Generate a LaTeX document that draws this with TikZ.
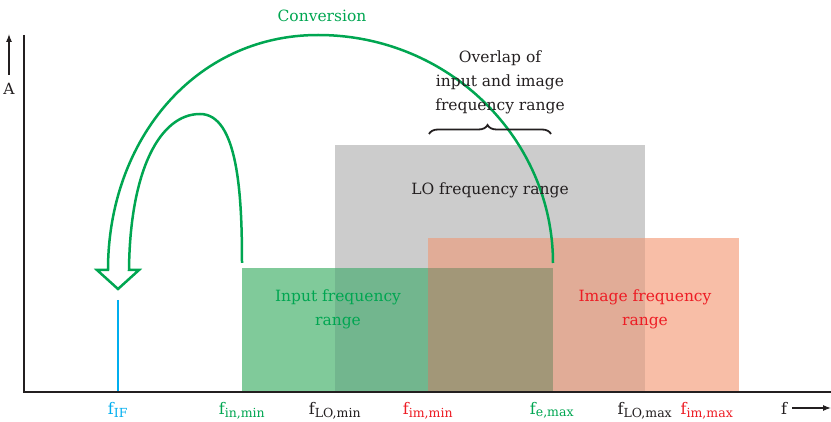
\documentclass[tikz,border=0pt]{standalone}
\usepackage{fontspec}
\setmainfont{DejaVu Serif}
\usetikzlibrary{decorations.pathreplacing,arrows.meta}
\definecolor{cgreen}{RGB}{0,166,81}
\definecolor{cred}{RGB}{237,28,36}
\definecolor{ccyan}{RGB}{0,174,239}
\definecolor{cblack}{RGB}{35,31,32}
\definecolor{fgray}{RGB}{204,204,204}
\definecolor{fgreen}{RGB}{128,202,154}
\definecolor{fgreengray}{RGB}{114,182,142}
\definecolor{forange}{RGB}{248,190,167}
\definecolor{forangegray}{RGB}{225,172,151}
\definecolor{fthree}{RGB}{162,151,120}
\tikzset{
  lbl/.style={font=\fontsize{15.5}{24}\selectfont, align=center, inner sep=0pt},
  axlbl/.style={font=\fontsize{16}{18}\selectfont, inner sep=0pt, anchor=base},
  axisline/.style={draw=cblack, line width=1.3pt},
  conv/.style={draw=cgreen, line width=2.5pt, line join=miter},
}
\newcommand{\fsub}[1]{f\textsubscript{\fontsize{12.5}{12}\selectfont #1}}
\begin{document}
\begin{tikzpicture}[x=1pt,y=-1pt]
\useasboundingbox (0,0) rectangle (831,422);
% regions
\fill[fgray] (335,145) rectangle (645,392);
\fill[forange] (645,238) rectangle (739,392);
\fill[forangegray] (428,238) rectangle (645,392);
\fill[fgreen] (242,268) rectangle (335,392);
\fill[fgreengray] (335,268) rectangle (428,392);
\fill[fthree] (428,268) rectangle (553,392);
% IF line
\draw[ccyan, line width=2.4pt] (118,300) -- (118,392);
% axes
\coordinate (o) at (24,392);
\coordinate (ytop) at (24,35);
\coordinate (xend) at (831,392);
\draw[axisline] (ytop) -- (o) -- (xend);
\coordinate (ya) at (9,75);
\coordinate (yb) at (9,34);
\draw[cblack, line width=1.1pt, -{Latex[length=8pt,width=6pt]}] (ya) -- (yb);
\node[lbl, cblack] (A) at (9,89) {A};
\node[axlbl, cblack] (f) at (784,414) {f};
\coordinate (xa) at (792,408);
\coordinate (xb) at (831,408);
\draw[cblack, line width=1.1pt, -{Latex[length=8pt,width=6pt]}] (xa) -- (xb);
% conversion arrow
\draw[conv] (553,263) .. controls (553,140) and (450,35) .. (318,35)
  .. controls (195,35) and (108,140) .. (108,270)
  -- (97,270) -- (118,289) -- (139,270) -- (129,270)
  .. controls (130,170) and (160,114) .. (200,114)
  .. controls (238,114) and (242,195) .. (242,263);
\node[lbl, cgreen] (conv) at (322,16) {Conversion};
% overlap
\node[lbl, cblack] (ov) at (500,82) {Overlap of\\input and image\\frequency range};
\coordinate (bra) at (429,134);
\coordinate (brb) at (551,134);
\draw[cblack, line width=1.8pt, decorate, decoration={brace, amplitude=9pt, aspect=0.48}] (bra) -- (brb);
% range labels
\node[lbl, cblack] (lo) at (490,190) {LO frequency range};
\node[lbl, cgreen] (in) at (338,309) {Input frequency\\range};
\node[lbl, cred] (im) at (645,309) {Image frequency\\range};
% axis labels
\node[axlbl, ccyan] (lif) at (118,414) {\fsub{IF}};
\node[axlbl, cgreen] (linmin) at (242,414) {\fsub{in,min}};
\node[axlbl, cblack] (llomin) at (335,414) {\fsub{LO,min}};
\node[axlbl, cred] (limmin) at (428,414) {\fsub{im,min}};
\node[axlbl, cgreen] (lemax) at (552,414) {\fsub{e,max}};
\node[axlbl, cblack] (llomax) at (645,414) {\fsub{LO,max}};
\node[axlbl, cred] (limmax) at (707,414) {\fsub{im,max}};
\end{tikzpicture}
\end{document}
